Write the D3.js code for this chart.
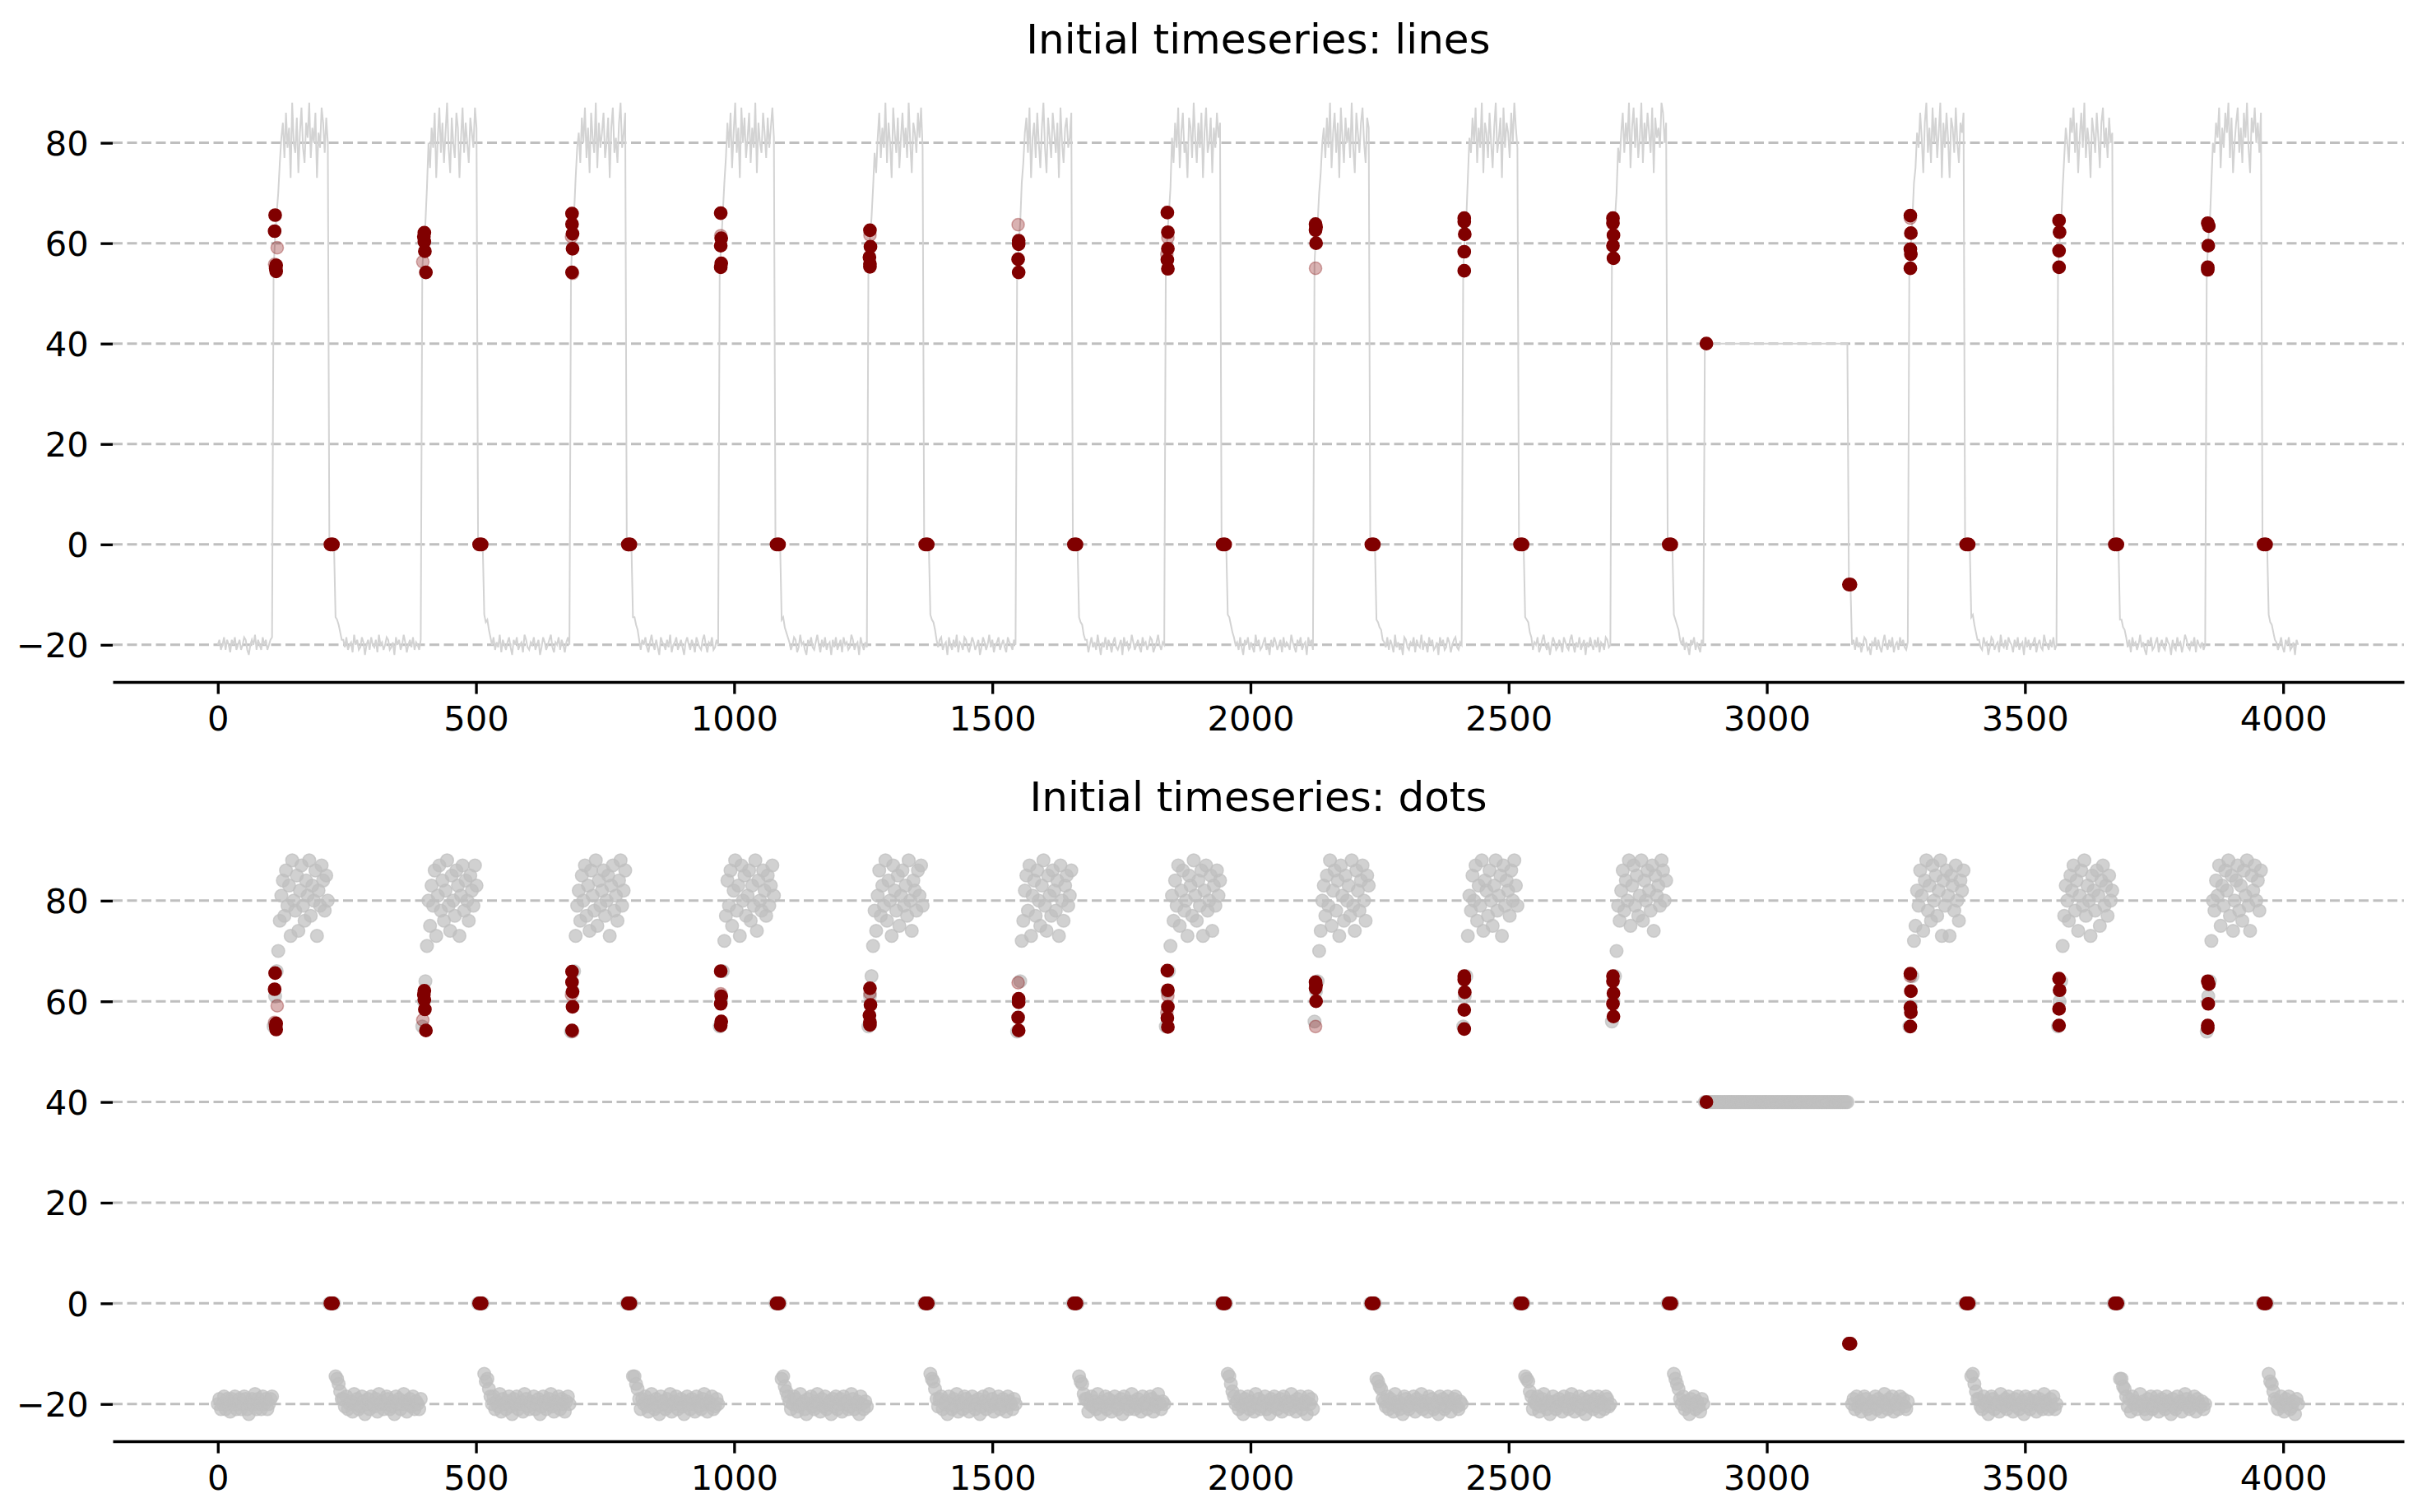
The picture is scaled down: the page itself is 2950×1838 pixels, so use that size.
<!DOCTYPE html>
<html>
<head>
<meta charset="utf-8">
<script src="https://cdn.jsdelivr.net/npm/d3@7"></script>
<style>
  body { margin: 0; background: #fff; }
  svg { display: block; }
</style>
</head>
<body>
<div id="chart"></div>
<script>
// one sample every 3 time steps
var tStep = 3;

var lowStart = [-20,-19,-21,-20,-18.5,-21,-19,-20,-21.5,-19,-20,-18.5,-21,-20,-19,-21,-20,-18.5,-19,-21,-22,-20,-19,-20,-18,-21,-19,-20,-21,-18.5,-20,-19,-21,-20,-19,-18.5];

var high0 = [55,61,66,70,76,81,84,77,86,79,83,73,88,80,78,85,74,82,87,79,76,84,81,88,77,83,80,86,73,82,79,87,84,78,85,80];
var low0 = [0,0,0,0,-14.5,-15,-16,-17.5,-19,
  -19,-20.5,-18.5,-21,-20,-19.5,-21.5,-18,-20,-19,-21,-20.5,-18.5,-19.5,-22,-20,-19,-21,-18.5,-20,-20.5,-19,-21.5,-18,-20,-19.5,-21,-20,-18.5,-19,-21,-20.5,-19.5,-22,-18.5,-20,-19,-21,-20,-18,-19.5,-21.5,-20,-19,-20.5,-18.5,-21,-19.5,-20,-21,-19];
var high1 = [55,60,64,71,80,75,83,79,86,73,81,87,78,84,76,82,88,79,74,85,80,77,86,83,73,81,87,78,84,80,76,85,82,79,87,83];
var low1 = [0,0,0,0,-14,-15.5,-15,-17,-18.5,
  -20,-18.5,-21,-19.5,-20.5,-18,-21.5,-19,-20,-21,-19.5,-18.5,-20.5,-22,-19,-20,-18.5,-21,-20,-19.5,-21.5,-18,-19,-20.5,-21,-19.5,-20,-18.5,-21,-20,-19,-22,-20.5,-18.5,-19.5,-21,-20,-19,-18,-20.5,-21.5,-19.5,-20,-18.5,-21,-19,-20,-21.5,-19.5,-18.5,-20];
var high2 = [54,62,66,73,79,82,76,85,80,87,77,83,74,86,81,78,88,75,84,79,82,86,77,80,85,73,83,87,78,81,76,84,88,79,82,86];
var low2 = [0,0,0,0,-14.5,-14.5,-16,-17,-19,
  -21,-19,-20,-18.5,-20.5,-21.5,-19.5,-18,-20,-21,-19,-20.5,-22,-18.5,-19.5,-20,-21,-19,-20.5,-18,-21.5,-20,-19.5,-18.5,-21,-20,-19,-20.5,-22,-19.5,-18.5,-20,-21,-19,-20,-21.5,-18.5,-19.5,-20.5,-21,-19,-18,-20,-21.5,-19.5,-20,-18.5,-21,-20.5,-19,-20];
var high3 = [55,60,66,72,77,84,79,86,75,82,88,78,83,73,87,80,85,77,81,86,76,83,79,88,74,84,80,78,86,82,77,85,79,83,87,81];
var low3 = [0,0,0,0,-15,-14.5,-16.5,-17.5,-18.5,
  -19.5,-21,-20,-18.5,-19,-21.5,-20.5,-18,-20,-19.5,-21,-22,-19,-20,-18.5,-20.5,-21,-19.5,-18,-20,-21.5,-19,-20.5,-18.5,-21,-20,-19.5,-22,-19,-20.5,-18.5,-21,-20,-19,-21.5,-18.5,-20,-19.5,-21,-20.5,-18,-19,-21,-20,-19.5,-22,-18.5,-20,-21,-19.5,-20.5];
var high4 = [55,61,65,71,78,74,81,86,77,83,79,88,76,84,80,73,87,82,78,85,75,81,86,79,83,77,88,80,74,84,82,78,86,81,87,79];
var low4 = [0,0,0,0,-14,-15,-15.5,-17,-19,
  -20.5,-19,-18.5,-21,-20,-19.5,-22,-18.5,-20,-21,-19,-20.5,-18,-21.5,-19.5,-20,-21,-18.5,-19,-20.5,-21.5,-20,-18.5,-19.5,-21,-20,-19,-22,-20.5,-18.5,-19.5,-21,-20,-18,-20.5,-19,-21.5,-20,-19.5,-18.5,-21,-20,-19,-20.5,-21.5,-18.5,-19.5,-20,-21,-19,-20];
var high5 = [54,60,64,72,76,82,85,78,87,73,81,84,77,86,80,75,83,88,79,74,85,81,77,86,82,78,84,73,87,80,76,83,85,79,81,86];
var low5 = [0,0,0,0,-14.5,-15.5,-16,-18,-19,
  -19,-21.5,-20,-18.5,-20.5,-19.5,-21,-18,-20,-22,-19.5,-20.5,-18.5,-21,-19,-20,-21.5,-19.5,-18.5,-20.5,-21,-20,-19,-22,-18.5,-20,-19.5,-21,-20.5,-18,-19.5,-21,-20,-19,-20.5,-21.5,-18.5,-20,-19.5,-21,-20,-18.5,-19,-21.5,-20.5,-19.5,-18,-20,-21,-19.5,-20];
var high6 = [55,62,66,71,81,76,84,79,87,75,82,86,78,80,73,85,83,77,88,81,76,84,79,86,73,82,87,78,80,85,74,83,79,86,81,84];
var low6 = [0,0,0,0,-14,-14.5,-16,-17.5,-18.5,
  -20,-19.5,-21,-18.5,-20.5,-22,-19,-20,-18.5,-21,-19.5,-20.5,-21.5,-18,-20,-19,-21,-20.5,-19.5,-18.5,-21,-20,-22,-19,-20.5,-18.5,-19.5,-21,-20,-19,-21.5,-18.5,-20.5,-19.5,-20,-21,-18,-19.5,-20.5,-21.5,-19,-20,-18.5,-21,-20,-19.5,-22,-18.5,-20,-19,-21];
var high7 = [56,62,64,70,74,80,83,77,85,79,88,75,82,86,78,84,73,87,81,76,85,80,83,77,88,79,74,86,82,78,84,87,80,76,85,83];
var low7 = [0,0,0,0,-15,-15.5,-16.5,-17,-19,
  -19.5,-20.5,-18.5,-21,-19,-20,-21.5,-18,-20.5,-19.5,-21,-20,-22,-18.5,-19,-20.5,-21,-19.5,-20,-18.5,-21.5,-19,-20,-20.5,-18,-21,-19.5,-20,-21.5,-18.5,-20,-19,-21,-20.5,-19.5,-22,-18.5,-20,-19,-21,-20.5,-18.5,-19.5,-21.5,-20,-19,-18.5,-20.5,-21,-19.5,-20];
var high8 = [55,61,65,73,81,78,85,80,87,76,83,79,88,74,84,82,77,86,80,75,83,88,78,81,85,73,87,79,84,82,77,86,80,88,83,79];
var low8 = [0,0,0,0,-14.5,-15,-15.5,-17.5,-18.5,
  -21,-19.5,-20,-18.5,-21.5,-20.5,-19,-18,-20,-21,-19.5,-22,-20,-18.5,-19.5,-21,-20.5,-19,-20,-21.5,-18.5,-19.5,-20.5,-21,-19,-18,-20,-21.5,-19.5,-20.5,-18.5,-21,-20,-19,-22,-19.5,-20.5,-18.5,-20,-21,-19,-20.5,-18.5,-21.5,-19.5,-20,-21,-18.5,-19,-20.5,-20];
var high9 = [56,60,65,70,79,76,82,86,78,84,80,88,75,83,87,79,85,77,81,88,76,84,80,86,82,78,87,74,85,81,83,79,88,86,80,84];
var low9 = [0,0,0,0,-14,-15,-16,-17,-19,
  -20,-18.5,-21,-19.5,-20.5,-22,-19,-20,-18.5,-21,-19.5,-20.5,-21.5,-19,-20];

// the long flat stretch at 40, then the short dip to -8
var flat40 = [40,40,40,40,40,40,40,40,40,40, 40,40,40,40,40,40,40,40,40,40,
  40,40,40,40,40,40,40,40,40,40, 40,40,40,40,40,40,40,40,40,40,
  40,40,40,40,40,40,40,40,40,40, 40,40,40,40,40,40,40,40,40,40,
  40,40,40,40,40,40,40,40,40,40, 40,40,40,40,40,40,40,40,40,40,
  40,40,40,40,40,40,40,40,40,40, 40,40,40];
var dip8 = [-8,-8];
var lowAfterFlat = [-20,-19,-21,-18.5,-20.5,-19.5,-21.5,-20,-18.5,-19,-21,-20.5,-22,-19.5,-20,-18.5,-21,-19,-20.5,-21.5,-19.5,-18,-20,-21,-19,-20.5,-18.5,-21.5,-20,-19.5,-21,-18.5,-20,-19,-20.5,-21,-19.5];

var high11 = [55,59,65,72,75,82,79,86,81,74,84,88,78,83,76,87,80,85,77,82,88,73,84,79,86,81,73,85,83,78,87,80,76,84,82,86];
var low11 = [0,0,0,0,-14.5,-14,-16,-17.5,-19,
  -19,-20.5,-21,-18.5,-20,-19.5,-22,-20.5,-18.5,-19,-21,-20,-19.5,-21.5,-18,-20,-20.5,-19,-21,-18.5,-19.5,-20,-21.5,-19,-20.5,-18.5,-21,-20,-19.5,-22,-18.5,-20.5,-19,-21,-20,-19.5,-18.5,-21.5,-20,-19,-20.5,-21,-18,-19.5,-20,-21,-19,-20.5,-18.5,-21,-20];
var high12 = [55,60,64,71,77,83,80,76,85,82,87,78,84,74,81,86,79,88,77,83,80,73,85,82,78,86,81,75,84,87,79,83,77,85,80,82];
var low12 = [0,0,0,0,-15,-15,-16.5,-17,-18.5,
  -20.5,-19,-21.5,-18.5,-20,-19.5,-21,-20,-18,-20.5,-19.5,-21,-22,-19,-20,-18.5,-21,-20.5,-19.5,-18.5,-21.5,-20,-19,-20.5,-21,-18.5,-19.5,-20,-22,-19,-20.5,-21,-18.5,-20,-19.5,-21.5,-20,-18,-19,-20.5,-21,-19.5,-20,-18.5,-21.5,-19,-20,-20.5,-19.5,-21,-20];
var high13 = [54,61,64,72,80,78,84,81,87,75,83,79,86,82,88,77,85,74,80,84,87,78,83,76,86,81,88,79,74,85,82,87,80,84,78,86];
var low13 = [0,0,0,0,-14,-15.5,-16,-17.5,-19,
  -19.5,-21,-20,-18.5,-20.5,-21.5,-19,-20,-18.5,-21,-20.5,-19.5,-22,-19,-20];

var series = [].concat(lowStart,
  high0, low0, high1, low1, high2, low2, high3, low3, high4, low4,
  high5, low5, high6, low6, high7, low7, high8, low8, high9, low9,
  flat40, dip8, lowAfterFlat,
  high11, low11, high12, low12, high13, low13);

// flagged points [t, value]
var flagged = [
  [111,65.6],[110,62.4],[113,55.6],[113,54.4],[112,55],
  [400,62.1],[399,61.3],[400,60.3],[401,58.4],[403,54.2],
  [686,65.9],[686,63.8],[687,61.9],[687,58.9],[686,54.2],
  [974,66],[975,61],[974,59.5],[975,56],[974,55.2],
  [1263,62.6],[1264,59.3],[1262,57.2],[1263,55.9],[1263,55.3],
  [1551,60.5],[1551,59.8],[1550,56.8],[1551,54.2],
  [1839,66.1],[1840,62.2],[1840,58.9],[1839,56.7],[1840,54.9],
  [2126,63.8],[2127,63.2],[2126,62.6],[2127,60],
  [2414,65],[2414,64.3],[2415,61.8],[2414,58.3],[2414,54.5],
  [2702,65],[2702,64],[2703,61.6],[2702,59.5],[2703,57],
  [3278,65.5],[3279,62],[3278,58.8],[3279,57.8],[3278,55],
  [3566,64.5],[3567,62.2],[3566,58.5],[3566,55.2],
  [3854,64],[3856,63.4],[3855,59.5],[3854,55.2],[3854,54.7],
  [218,0],[221,0],[223,0],[506,0],[509,0],[511,0],[794,0],[797,0],[799,0],
  [1082,0],[1085,0],[1087,0],[1370,0],[1373,0],[1375,0],[1658,0],[1661,0],[1663,0],
  [1946,0],[1949,0],[1951,0],[2234,0],[2237,0],[2239,0],[2522,0],[2525,0],[2527,0],
  [2810,0],[2813,0],[2815,0],[3386,0],[3389,0],[3391,0],[3674,0],[3677,0],[3679,0],
  [3962,0],[3965,0],[3967,0],
  [2883,40],[3159,-8],[3162,-8]
];
// flagged points drawn faint
var faint = [[115,59.1],[110,55.8],[397,56.3],[685,61.3],[687,54],[974,61.5],
  [1263,61.6],[1550,63.7],[1840,61.1],[1838,57.8],[2126,55],[3278,65]];

var xTicks = [0, 500, 1000, 1500, 2000, 2500, 3000, 3500, 4000];
var yTicks = [-20, 0, 20, 40, 60, 80];
var titles = ["Initial timeseries: lines", "Initial timeseries: dots"];

var points = series.map(function(v, i) { return {t: i * tStep, v: v}; });

var svg = d3.select("#chart")
    .append("svg")
    .attr("width", 2950)
    .attr("height", 1838);

svg.append("rect").attr("width", 2950).attr("height", 1838).style("fill", "#fff");

var left = 137, right = 2922;
var xScale = d3.scaleLinear()
               .domain([-203.6, 4234])
               .range([left, right]);

function makePanel(top, bottom, title) {
  var yScale = d3.scaleLinear()
                 .domain([-27.4, 93.7])
                 .range([bottom, top]);
  var g = svg.append("g");

  // dashed horizontal grid
  g.selectAll(".grid")
   .data(yTicks)
   .enter()
   .append("line")
   .attr("class", "grid")
   .attr("x1", left)
   .attr("x2", right)
   .attr("y1", function(d) { return yScale(d); })
   .attr("y2", function(d) { return yScale(d); })
   .style("stroke", "#bfbfbf")
   .style("stroke-width", 3)
   .style("stroke-dasharray", "12,5.5");

  g.append("text")
   .attr("x", (left + right) / 2)
   .attr("y", top - 25)
   .attr("text-anchor", "middle")
   .style("font-family", "DejaVu Sans")
   .style("font-size", "50px")
   .text(title);

  return {g: g, y: yScale, bottom: bottom};
}

function drawFlags(p) {
  p.g.selectAll(".faint")
     .data(faint)
     .enter()
     .append("circle")
     .attr("class", "faint")
     .attr("cx", function(d) { return xScale(d[0]); })
     .attr("cy", function(d) { return p.y(d[1]); })
     .attr("r", 7.6)
     .style("fill", "#800000")
     .style("fill-opacity", 0.3)
     .style("stroke", "#800000")
     .style("stroke-opacity", 0.3)
     .style("stroke-width", 1.5);

  p.g.selectAll(".flag")
     .data(flagged)
     .enter()
     .append("circle")
     .attr("class", "flag")
     .attr("cx", function(d) { return xScale(d[0]); })
     .attr("cy", function(d) { return p.y(d[1]); })
     .attr("r", 7.6)
     .style("fill", "#800000")
     .style("stroke", "#800000")
     .style("stroke-width", 1.5);
}

function drawAxes(p) {
  var tick = 14.6, lw = 3.33;

  p.g.append("g")
     .attr("transform", "translate(0," + p.bottom + ")")
     .call(d3.axisBottom(xScale)
             .tickValues(xTicks)
             .tickFormat(d3.format("d"))
             .tickSize(tick)
             .tickPadding(tick)
             .tickSizeOuter(0))
     .call(function(a) {
       a.select(".domain").attr("stroke-width", lw);
       a.selectAll(".tick line").attr("stroke-width", lw);
     })
     .attr("font-size", 41.67)
     .attr("font-family", "DejaVu Sans");

  p.g.append("g")
     .attr("transform", "translate(" + left + ",0)")
     .call(d3.axisLeft(p.y).tickValues(yTicks).tickSize(tick).tickPadding(tick))
     .call(function(a) {
       a.select(".domain").remove();
       a.selectAll(".tick line").attr("stroke-width", lw);
       a.selectAll(".tick text").attr("dy", "0.36em");
     })
     .attr("font-size", 41.67)
     .attr("font-family", "DejaVu Sans");
}

// top: the series as a line
var p1 = makePanel(90, 829, titles[0]);
p1.g.append("path")
    .datum(points)
    .attr("d", d3.line()
                 .x(function(d) { return xScale(d.t); })
                 .y(function(d) { return p1.y(d.v); }))
    .style("fill", "none")
    .style("stroke", "#d3d3d3")
    .style("stroke-width", 2);
drawFlags(p1);
drawAxes(p1);

// bottom: the series as dots
var p2 = makePanel(1011, 1752, titles[1]);
p2.g.selectAll(".dot")
    .data(points)
    .enter()
    .append("circle")
    .attr("class", "dot")
    .attr("cx", function(d) { return xScale(d.t); })
    .attr("cy", function(d) { return p2.y(d.v); })
    .attr("r", 7.8)
    .style("fill", "#bfbfbf")
    .style("fill-opacity", 0.72)
    .style("stroke", "#bfbfbf")
    .style("stroke-opacity", 0.72)
    .style("stroke-width", 1.5);
drawFlags(p2);
drawAxes(p2);
</script>
</body>
</html>
